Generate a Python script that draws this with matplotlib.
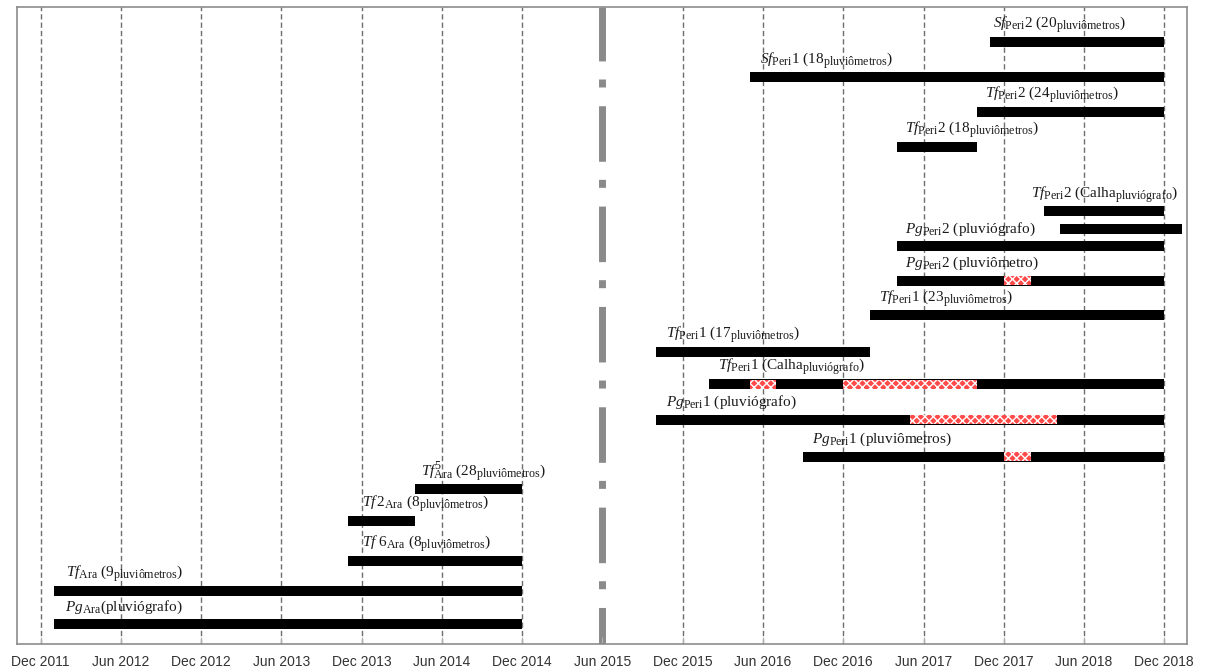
import numpy as np
import matplotlib
matplotlib.use("Agg")
import matplotlib.pyplot as plt
import matplotlib._mathtext as mtext

plt.rcParams['mathtext.fontset'] = 'custom'
plt.rcParams['mathtext.rm'] = 'Liberation Serif'
plt.rcParams['mathtext.it'] = 'Liberation Serif:italic'
plt.rcParams['hatch.linewidth'] = 1.0
# subscripts in the original are a bit larger than mathtext's default
mtext.SHRINK_FACTOR = 0.78

# --- data -------------------------------------------------------------
labels = [
    r"$Pg_{\mathrm{Ara}}$(pluviógrafo)",
    r"$Tf_{\mathrm{Ara}}$ (9$_{\mathrm{pluviômetros}}$)",
    r"$Tf\ \mathrm{6}_{\mathrm{Ara}}$ (8$_{\mathrm{pluviômetros}}$)",
    r"$Tf\,\mathrm{2}_{\mathrm{Ara}}$ (8$_{\mathrm{pluviômetros}}$)",
    r"$Tf^{\mathrm{5}}_{\mathrm{Ara}}$ (28$_{\mathrm{pluviômetros}}$)",
    r"$Pg_{\mathrm{Peri}}$1 (pluviômetros)",
    r"$Pg_{\mathrm{Peri}}$1 (pluviógrafo)",
    r"$Tf_{\mathrm{Peri}}$1 (Calha$_{\mathrm{pluviógrafo}}$)",
    r"$Tf_{\mathrm{Peri}}$1 (17$_{\mathrm{pluviômetros}}$)",
    r"$Tf_{\mathrm{Peri}}$1 (23$_{\mathrm{pluviômetros}}$)",
    r"$Pg_{\mathrm{Peri}}$2 (pluviômetro)",
    r"$Pg_{\mathrm{Peri}}$2 (pluviógrafo)",
    "",
    r"$Tf_{\mathrm{Peri}}$2 (Calha$_{\mathrm{pluviógrafo}}$)",
    r"$Tf_{\mathrm{Peri}}$2 (18$_{\mathrm{pluviômetros}}$)",
    r"$Tf_{\mathrm{Peri}}$2 (24$_{\mathrm{pluviômetros}}$)",
    r"$Sf_{\mathrm{Peri}}$1 (18$_{\mathrm{pluviômetros}}$)",
    r"$Sf_{\mathrm{Peri}}$2 (20$_{\mathrm{pluviômetros}}$)",
]
starts = ["2012-01", "2012-01", "2013-11", "2013-11", "2014-04",
          "2016-09", "2015-10", "2016-02", "2015-10", "2017-02",
          "2017-04", "2017-04", "2018-04-08", "2018-03", "2017-04",
          "2017-10", "2016-05", "2017-11"]
ends = ["2014-12", "2014-12", "2014-12", "2014-04", "2014-12",
        "2018-12", "2018-12", "2018-12", "2017-02", "2018-12",
        "2018-12", "2018-12", "2019-01-10", "2018-12", "2017-10",
        "2018-12", "2018-12", "2018-12"]
# periods with missing / failed records (red hatched)
gaps = [[], [], [], [], [],
        [("2017-12", "2018-02")],
        [("2017-05", "2018-04")],
        [("2016-05", "2016-07"), ("2016-12", "2017-10")],
        [], [],
        [("2017-12", "2018-02")],
        [], [], [], [], [], [], []]
# vertical lane of each bar (0 = top of frame)
lanes = [617, 584, 554, 514, 482, 449.5, 412.5, 377, 344.5, 308.3,
         273.7, 239, 222.3, 204.3, 140, 105, 70.3, 35]
# label start relative to bar start (months)
label_dx = [0.8, 0.9, 1.0, 1.0, 0.4, 0.7, 0.75, 0.6, 0.75, 0.7,
            0.65, 0.65, 0, -1.0, 0.65, 0.6, 0.8, 0.2]

tick_labels = ["Dec 2011", "Jun 2012", "Dec 2012", "Jun 2013", "Dec 2013",
               "Jun 2014", "Dec 2014", "Jun 2015", "Dec 2015", "Jun 2016",
               "Dec 2016", "Jun 2017", "Dec 2017", "Jun 2018", "Dec 2018"]
split_label = "Jun 2015"


def to_month(s):
    # months since Dec 2011
    parts = [int(p) for p in s.split("-")]
    m = (parts[0] - 2011) * 12 + parts[1] - 12
    if len(parts) > 2:
        m += (parts[2] - 1) / 30.0
    return m


# --- figure -----------------------------------------------------------
fig = plt.figure(figsize=(12.05, 6.71), dpi=100)
ax = fig.add_axes([0.0141, 0.0402, 0.9710, 0.9494])

ticks = np.arange(len(tick_labels)) * 6
for t, lab in zip(ticks, tick_labels):
    if lab == split_label:
        ax.axvline(t, color="#8a8a8a", lw=5, linestyle=(2.74, (8, 2.7, 1.15, 2.6)),
                   dash_capstyle="butt", zorder=1)
    else:
        ax.axvline(t, color="#6e6e6e", lw=1.0, linestyle=(0, (3.8, 2.2)), zorder=1)

bar_h = 10
for lab, s, e, g, y, dx in zip(labels, starts, ends, gaps, lanes, label_dx):
    x0, x1 = to_month(s), to_month(e)
    ax.barh(y, x1 - x0, left=x0, height=bar_h, color="black", zorder=3)
    for gs, ge in g:
        g0, g1 = to_month(gs), to_month(ge)
        ax.barh(y, g1 - g0, left=g0, height=bar_h - 1, color="#ff4a4a",
                edgecolor="white", hatch="xxxx", lw=0, zorder=4)
    if lab:
        ax.text(x0 + dx, y - 17, lab, fontsize=11, family="Liberation Serif",
                color="#1a1a1a", ha="left", va="center", zorder=5)

ax.set_xlim(-1.768, 85.70)
ax.set_ylim(637, 0)
ax.set_yticks([])
ax.set_xticks(ticks)
ax.set_xticklabels(tick_labels, family="Liberation Sans", fontsize=10, color="#333333")
ax.tick_params(axis="x", direction="in", length=5, color="#b0b0b0", pad=8)
for sp in ax.spines.values():
    sp.set_color("#8c8c8c")
    sp.set_linewidth(1.2)

fig.savefig("out.png", dpi=100)
